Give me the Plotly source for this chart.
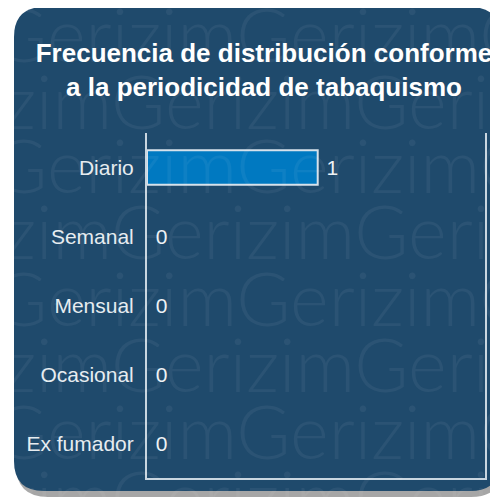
import plotly.graph_objects as go

categories = ["Diario", "Semanal", "Mensual", "Ocasional", "Ex fumador"]
values = [1, 0, 0, 0, 0]
title_text = "Frecuencia de distribución conforme<br>a la periodicidad de tabaquismo"
watermark_word = "Gerizim"

OFF = 8  # page body margin
W, H = 490, 491
# plot area in page pixels: x 147..485, y 133..478
L, R, T, B = 147 - OFF, W - (485 - OFF), 133 - OFF, H - (478 - OFF)
PW = W - L - R
PH = H - T - B


def px(x, y):
    """page pixel -> paper coords"""
    return (x - OFF - L) / PW, (H - B - (y - OFF)) / PH


def pt(x, y):
    a, b = px(x, y)
    return f"{a:.5f},{b:.5f}"


def rounded_rect(x0, y0, x1, y1, r):
    return (
        f"M {pt(x0 + r, y0)} L {pt(x1 - r, y0)} Q {pt(x1, y0)} {pt(x1, y0 + r)} "
        f"L {pt(x1, y1 - r)} Q {pt(x1, y1)} {pt(x1 - r, y1)} "
        f"L {pt(x0 + r, y1)} Q {pt(x0, y1)} {pt(x0, y1 - r)} "
        f"L {pt(x0, y0 + r)} Q {pt(x0, y0)} {pt(x0 + r, y0)} Z"
    )


BG = "#1f4a6c"

shapes = [
    dict(type="path", xref="paper", yref="paper", layer="below",
         path=rounded_rect(16, 11, 503, 497, 32),
         fillcolor="rgba(0,0,0,0.35)", line=dict(width=0)),
    dict(type="path", xref="paper", yref="paper", layer="below",
         path=rounded_rect(14, 7, 500, 491, 30),
         fillcolor=BG, line=dict(width=0)),
]

annotations = []
row_y = [33, 100, 164, 230, 297, 363, 430, 496]
row_g = [57, 175]
period = 276
for i, yy in enumerate(row_y):
    gx = row_g[i % 2]
    ax, ay = px(gx - 2 * period, yy)
    annotations.append(dict(
        x=ax, y=ay, xref="paper", yref="paper", xanchor="left", yanchor="middle",
        text=watermark_word * 5, showarrow=False,
        font=dict(family="Lato", size=74, weight=300, color="rgba(255,255,255,0.055)"),
    ))

fig = go.Figure()
fig.add_trace(go.Bar(
    x=values, y=categories, orientation="h",
    marker=dict(color="#0079c1",
                line=dict(color="#d6e2ec", width=[2 if v else 0 for v in values])),
    texttemplate=" %{x}", textposition="outside",
    textfont=dict(family="Liberation Sans, Arial", size=21, color="#eef2f5"),
    cliponaxis=False,
))

fig.update_layout(
    width=W, height=H,
    margin=dict(l=L, r=R, t=T, b=B),
    paper_bgcolor="white", plot_bgcolor="rgba(0,0,0,0)",
    bargap=0.5,
    showlegend=False,
    title=dict(text=title_text, x=(264 - OFF) / W, xanchor="center", xref="container",
               y=1 - (62 - OFF) / H, yanchor="middle", yref="container",
               font=dict(family="Liberation Sans, Arial", size=26, color="white", weight="bold")),
    xaxis=dict(range=[0, 1.98], showgrid=False, zeroline=False, showticklabels=False,
               showline=True, linecolor="#c9d6e0", linewidth=2, fixedrange=True),
    yaxis=dict(categoryorder="array", categoryarray=categories, autorange="reversed",
               showgrid=False, zeroline=False, showline=True, mirror=True,
               linecolor="#c9d6e0", linewidth=2, ticks="", ticklabelstandoff=7,
               tickfont=dict(family="Liberation Sans, Arial", size=21, color="#e6ecf0")),
    shapes=shapes,
    annotations=annotations,
)

fig.write_html("out.html")
